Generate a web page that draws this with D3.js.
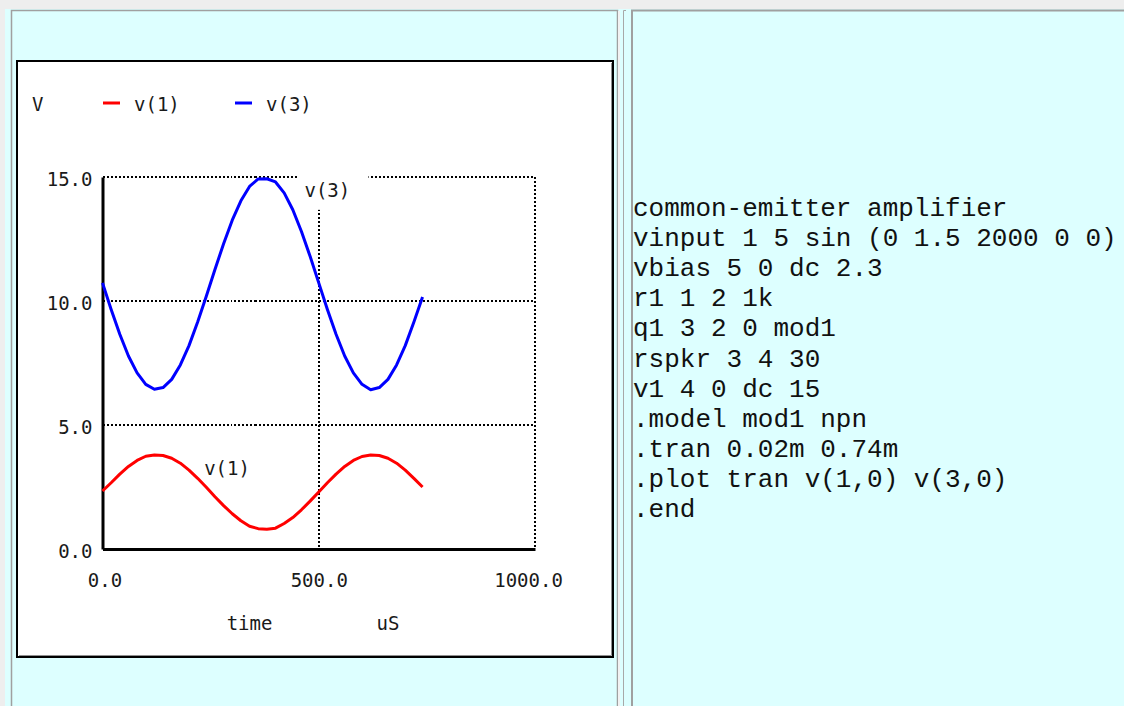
<!DOCTYPE html>
<html>
<head>
<meta charset="utf-8">
<script src="https://cdn.jsdelivr.net/npm/d3@7"></script>
<style>
  html, body { margin: 0; padding: 0; background: #eeeeee; }
  svg { display: block; }
  .chart-text { font-family: "DejaVu Sans Mono", monospace; font-size: 19px; fill: #1a1a1a; }
  .netlist { font-family: "Liberation Mono", "Courier New", monospace; font-size: 26px; fill: #111; }
</style>
</head>
<body>
<svg id="page" width="1124" height="706"></svg>
<script>
// ---------- data ----------
const timeUs = [0,20,40,60,80,100,120,140,160,180,200,220,240,260,280,300,320,340,360,380,
                400,420,440,460,480,500,520,540,560,580,600,620,640,660,680,700,720,740];
const v1 = [2.34,2.67,3.02,3.33,3.57,3.74,3.79,3.77,3.66,3.46,3.18,2.85,2.49,2.11,1.75,1.42,1.14,0.92,0.82,0.80,
            0.84,1.03,1.27,1.58,1.93,2.30,2.67,3.02,3.33,3.57,3.73,3.79,3.77,3.66,3.46,3.18,2.85,2.50];
const v3 = [10.73,9.66,8.66,7.78,7.10,6.64,6.44,6.51,6.84,7.42,8.20,9.15,10.19,11.27,12.31,13.26,14.04,14.62,14.92,14.93,
            14.80,14.36,13.68,12.80,11.80,10.73,9.66,8.66,7.78,7.10,6.64,6.42,6.51,6.84,7.42,8.20,9.15,10.16];
const seriesNames = ["v(1)", "v(3)"];
const seriesColors = ["#ff0000", "#0000ff"];
const yTicks = [0, 5, 10, 15];
const xTicks = [0, 500, 1000];
const yGrid = [5, 10, 15];
const xGrid = [500, 1000];
const netlist = [
  "common-emitter amplifier",
  "vinput 1 5 sin (0 1.5 2000 0 0)",
  "vbias 5 0 dc 2.3",
  "r1 1 2 1k",
  "q1 3 2 0 mod1",
  "rspkr 3 4 30",
  "v1 4 0 dc 15",
  ".model mod1 npn",
  ".tran 0.02m 0.74m",
  ".plot tran v(1,0) v(3,0)",
  ".end"
];

// ---------- page frame ----------
const svg = d3.select("#page");
svg.append("rect").attr("x", 5).attr("y", 9).attr("width", 1119).attr("height", 697).attr("fill", "#ddffff");
const frame = svg.append("g").attr("fill", "none");
frame.append("path").attr("d", "M11.5,706V10.5H617.5V706").attr("stroke", "#a0a0a0").attr("stroke-width", 1.5);
frame.append("line").attr("x1", 619).attr("x2", 619).attr("y1", 11).attr("y2", 706).attr("stroke", "#f2f2f2").attr("stroke-width", 2);
frame.append("path").attr("d", "M623.5,706V10.5H626").attr("stroke", "#a8a8a8").attr("stroke-width", 1);
frame.append("path").attr("d", "M632,706V10.5H1124").attr("stroke", "#a0a0a0").attr("stroke-width", 2);

// ---------- chart box ----------
svg.append("rect").attr("x", 17).attr("y", 61).attr("width", 596).attr("height", 596)
  .attr("fill", "#ffffff").attr("stroke", "#000").attr("stroke-width", 2);
svg.append("path").attr("d", "M611.5,63V655.5H19").attr("fill", "none").attr("stroke", "#909090").attr("stroke-width", 1);

const x = d3.scaleLinear().domain([0, 1000]).range([102.5, 535]);
const y = d3.scaleLinear().domain([0, 15]).range([549, 177]);

const chart = svg.append("g");

// gridlines (dotted)
chart.append("g").selectAll("line").data(yGrid).join("line")
  .attr("x1", x(0)).attr("x2", x(1000))
  .attr("y1", d => Math.round(y(d))).attr("y2", d => Math.round(y(d)))
  .attr("stroke", "#000").attr("stroke-width", 2).attr("stroke-dasharray", "2,2")
  .attr("shape-rendering", "crispEdges");
chart.append("g").selectAll("line").data(xGrid).join("line")
  .attr("x1", d => Math.round(x(d))).attr("x2", d => Math.round(x(d)))
  .attr("y1", y(15)).attr("y2", y(0))
  .attr("stroke", "#000").attr("stroke-width", 2).attr("stroke-dasharray", "2,2")
  .attr("shape-rendering", "crispEdges");

// axes
const yAxis = d3.axisLeft(y).tickValues(yTicks).tickSize(0).tickSizeOuter(0).tickPadding(10)
  .tickFormat(d3.format(".1f"));
const gy = chart.append("g").attr("transform", `translate(${x(0)},0)`).call(yAxis);
const xAxis = d3.axisBottom(x).tickValues(xTicks).tickSize(0).tickSizeOuter(0).tickPadding(25)
  .tickFormat(d3.format(".1f"));
const gx = chart.append("g").attr("transform", `translate(0,${y(0)})`).call(xAxis);
[gx, gy].forEach(g => {
  g.select(".domain").attr("stroke", "#000").attr("stroke-width", 3);
  g.selectAll("text").attr("class", "chart-text").attr("font-family", null).attr("font-size", null);
  g.attr("font-family", null).attr("font-size", null);
});
gy.selectAll("text").attr("dy", "0.47em");
gx.selectAll("text").attr("dx", d => d === 1000 ? -7 : (d === 0 ? 2 : 0));

// axis titles
chart.append("text").attr("class", "chart-text").attr("x", x(340)).attr("y", 630).attr("text-anchor", "middle").text("time");
chart.append("text").attr("class", "chart-text").attr("x", x(660)).attr("y", 630).attr("text-anchor", "middle").text("uS");

// series lines
const series = [v1, v3];
const line = d3.line().x((d, i) => x(timeUs[i])).y(d => y(d));

const lbl3 = { t: 467, v: 14.2 };
const lbl1 = { t: 235, v: 2.98 };
chart.append("rect").attr("x", x(lbl3.t) - 6).attr("y", y(lbl3.v) - 30)
  .attr("width", 70).attr("height", 43).attr("fill", "#fff");

series.forEach((s, k) => {
  chart.append("path").datum(s).attr("d", line)
    .attr("fill", "none").attr("stroke", seriesColors[k]).attr("stroke-width", 3)
    .attr("stroke-linejoin", "round").attr("stroke-linecap", "butt");
});

chart.append("text").attr("class", "chart-text").attr("x", x(lbl3.t)).attr("y", y(lbl3.v)).text(seriesNames[1]);
chart.append("text").attr("class", "chart-text").attr("x", x(lbl1.t)).attr("y", y(lbl1.v)).text(seriesNames[0]);

// legend
const legend = svg.append("g");
legend.append("text").attr("class", "chart-text").attr("x", 32).attr("y", 111).text("V");
const legX = [103, 235];
seriesNames.forEach((n, k) => {
  legend.append("line").attr("x1", legX[k]).attr("x2", legX[k] + 17).attr("y1", 103).attr("y2", 103)
    .attr("stroke", seriesColors[k]).attr("stroke-width", 3);
  legend.append("text").attr("class", "chart-text").attr("x", legX[k] + 31).attr("y", 111).text(n);
});

// ---------- netlist text ----------
svg.append("g").selectAll("text").data(netlist).join("text")
  .attr("class", "netlist")
  .attr("x", 633).attr("y", (d, i) => 216 + i * 30.1)
  .attr("xml:space", "preserve")
  .style("white-space", "pre")
  .text(d => d);
</script>
</body>
</html>
